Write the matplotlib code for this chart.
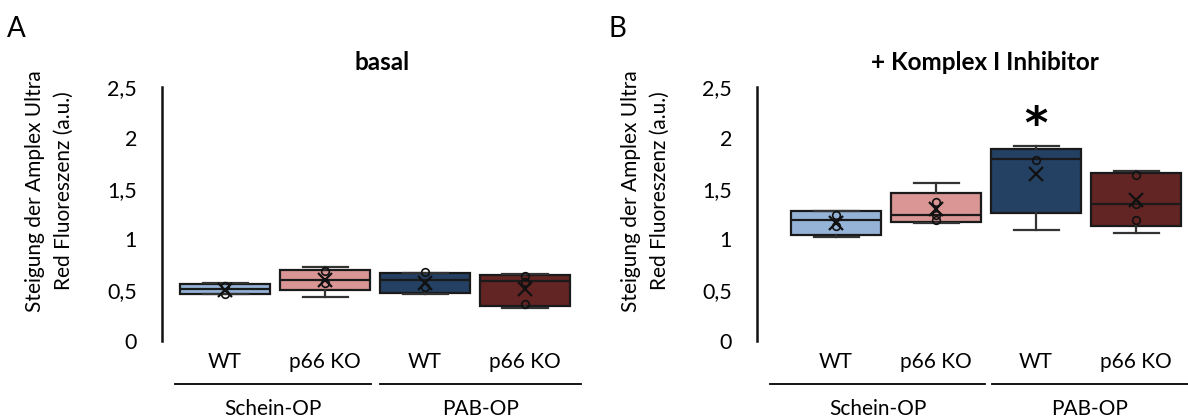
import matplotlib
matplotlib.use("Agg")
import matplotlib.pyplot as plt
from matplotlib.transforms import blended_transform_factory

plt.rcParams['font.family'] = ['Lato', 'DejaVu Sans']

# ---------------- data ----------------
categories = ["WT", "p66 KO", "WT", "p66 KO"]
groups = ["Schein-OP", "PAB-OP"]
y_ticks = [0, 0.5, 1, 1.5, 2, 2.5]
y_ticklabels = ["0", "0,5", "1", "1,5", "2", "2,5"]
panel_titles = ["basal", "+ Komplex I Inhibitor"]
panel_letters = ["A", "B"]
ylabel = "Steigung der Amplex Ultra\nRed Fluoreszenz (a.u.)"

# basal
basal_whislo = [0.46, 0.43, 0.46, 0.32]
basal_q1 = [0.465, 0.50, 0.47, 0.34]
basal_med = [0.51, 0.60, 0.60, 0.59]
basal_q3 = [0.565, 0.70, 0.665, 0.65]
basal_whishi = [0.575, 0.73, 0.67, 0.66]
basal_mean = [0.50, 0.60, 0.575, 0.51]
basal_points = [[0.54, 0.46], [0.69, 0.57], [0.675, 0.53], [0.635, 0.585, 0.36]]

# + Komplex I Inhibitor
inh_whislo = [1.02, 1.165, 1.09, 1.065]
inh_q1 = [1.045, 1.17, 1.255, 1.13]
inh_med = [1.19, 1.24, 1.79, 1.35]
inh_q3 = [1.275, 1.46, 1.89, 1.65]
inh_whishi = [1.28, 1.56, 1.92, 1.675]
inh_mean = [1.16, 1.30, 1.645, 1.385]
inh_points = [[1.245, 1.13], [1.37, 1.24, 1.19], [1.78], [1.635, 1.345, 1.19]]
significant = [False, False, True, False]

colors = ["#95B3D7", "#DA9694", "#244062", "#632523"]

# ---------------- figure ----------------
W, H = 1188, 417
fig = plt.figure(figsize=(W / 100, H / 100), dpi=100)

def px_axes(left, right, top, bottom):
    return fig.add_axes([left / W, 1 - bottom / H, (right - left) / W, (bottom - top) / H])

panels = [
    dict(whislo=basal_whislo, q1=basal_q1, med=basal_med, q3=basal_q3, whishi=basal_whishi,
         mean=basal_mean, points=basal_points, sig=[False] * 4,
         left=162, right=585, xlim=(-0.63, 3.6),
         glines=[(-0.5, 1.46), (1.55, 3.56)], title_x=382, ylab_x=49, letter_x=16),
    dict(whislo=inh_whislo, q1=inh_q1, med=inh_med, q3=inh_q3, whishi=inh_whishi,
         mean=inh_mean, points=inh_points, sig=significant,
         left=757, right=1188, xlim=(-0.79, 3.52),
         glines=[(-0.66, 1.49), (1.56, 3.52)], title_x=985, ylab_x=645, letter_x=617),
]

FS = 15
for i, p in enumerate(panels):
    ax = px_axes(p["left"], p["right"], 87, 341)
    stats = []
    for k in range(4):
        stats.append(dict(whislo=p["whislo"][k], q1=p["q1"][k], med=p["med"][k],
                          q3=p["q3"][k], whishi=p["whishi"][k], mean=p["mean"][k],
                          fliers=[]))
    bp = ax.bxp(stats, positions=range(4), widths=0.9, patch_artist=True,
                showmeans=True, meanline=False, showfliers=False,
                boxprops=dict(linewidth=1.6, edgecolor="#1a1a1a"),
                medianprops=dict(color="#1a1a1a", linewidth=1.6),
                whiskerprops=dict(color="#333333", linewidth=1.6),
                capprops=dict(color="#333333", linewidth=1.6),
                meanprops=dict(marker="x", markeredgecolor="#111111", markersize=9.5,
                               markeredgewidth=1.6))
    for k, box in enumerate(bp["boxes"]):
        box.set_facecolor(colors[k])
    for k in range(4):
        ax.plot([k] * len(p["points"][k]), p["points"][k], linestyle="none", marker="o",
                markersize=5.5, markerfacecolor="none", markeredgecolor="#111111",
                markeredgewidth=1.2, zorder=5)
        if p["sig"][k]:
            ax.text(k, p["whishi"][k] + 0.2, "*", ha="center", va="center",
                    fontsize=32, fontweight="bold", family="DejaVu Sans")

    ax.set_xlim(*p["xlim"])
    ax.set_ylim(0, 2.5)
    ax.set_yticks(y_ticks)
    ax.set_yticklabels(y_ticklabels, fontsize=15.5)
    ax.tick_params(axis="y", length=0, pad=18)
    ax.set_xticks([])
    for s in ["top", "right", "bottom"]:
        ax.spines[s].set_visible(False)
    ax.spines["left"].set_linewidth(1.8)
    ax.spines["left"].set_color("#111111")
    ax.patch.set_alpha(0)

    tr = blended_transform_factory(ax.transData, ax.transAxes)
    for k, c in enumerate(categories):
        ax.text(k, (341 - 361.7) / 254, c, transform=tr, ha="center", va="center", fontsize=FS)
    for g, (x0, x1) in enumerate(p["glines"]):
        ax.plot([x0, x1], [(341 - 383.5) / 254] * 2, transform=tr, color="black",
                linewidth=1.3, clip_on=False)
        ax.text((x0 + x1) / 2, (341 - 409) / 254, groups[g], transform=tr, ha="center",
                va="center", fontsize=FS)

    fig.text(p["title_x"] / W, 1 - 62 / H, panel_titles[i], ha="center", va="center",
             fontsize=17.5, fontweight="bold")
    fig.text(p["ylab_x"] / W, 1 - 191 / H, ylabel, ha="center", va="center",
             rotation=90, fontsize=FS, multialignment="center", linespacing=1.55)
    fig.text(p["letter_x"] / W, 1 - 29 / H, panel_letters[i], ha="center", va="center",
             fontsize=20)

fig.savefig("out.png", dpi=100)
